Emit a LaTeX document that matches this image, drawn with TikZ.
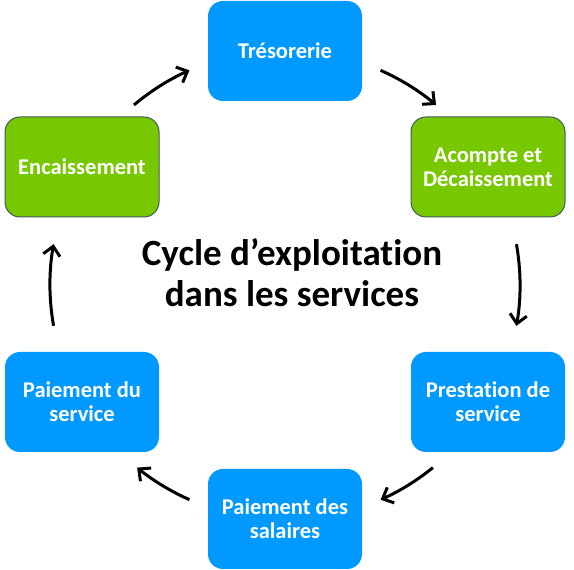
\documentclass[tikz,border=0pt]{standalone}
\usepackage{fontspec}
\setmainfont{Carlito}[Ligatures={NoCommon}]
\usetikzlibrary{arrows.meta,calc}
\definecolor{boxblue}{HTML}{0099FF}
\definecolor{boxgreen}{HTML}{78C800}
\definecolor{greenedge}{HTML}{3D5A5C}
\tikzset{
  box/.style={rectangle, rounded corners=15pt, minimum width=154pt, minimum height=100pt,
    inner sep=0pt, text=white, align=center,
    font=\fontsize{22.5pt}{24pt}\selectfont\bfseries},
  bluebox/.style={box, fill=boxblue},
  greenbox/.style={box, fill=boxgreen, draw=greenedge, line width=1pt},
  arr/.style={line width=3pt, -{Straight Barb[length=9pt,width=17pt,line width=3pt]}}
}
\begin{document}
\begin{tikzpicture}[x=1pt,y=1pt]
\useasboundingbox (0,0) rectangle (574,570);
\coordinate (C) at (285,285);
\node[bluebox]  (treso) at (285,519) {Trésorerie};
\node[greenbox] (acompte) at (488,403) {Acompte et\\Décaissement};
\node[bluebox]  (presta) at (488,168) {Prestation de\\service};
\node[bluebox]  (salaires) at (285,51) {Paiement des\\salaires};
\node[bluebox]  (paiement) at (82,168) {Paiement du\\service};
\node[greenbox] (encaiss) at (82,403) {Encaissement};
\node[font=\fontsize{37pt}{41pt}\selectfont\bfseries, align=center] (title) at (292,297)
  {Cycle d’exploitation\\dans les services};
% arrows along a circle
\coordinate (a1) at ($(C)+(130:235pt)$);
\coordinate (a2) at ($(C)+(66:235pt)$);
\coordinate (a3) at ($(C)+(10:235pt)$);
\coordinate (a4) at ($(C)+(-51:235pt)$);
\coordinate (a5) at ($(C)+(-114:235pt)$);
\coordinate (a6) at ($(C)+(190:235pt)$);
\draw[arr] (a1) arc[start angle=130, end angle=114, radius=235pt];
\draw[arr] (a2) arc[start angle=66, end angle=50, radius=235pt];
\draw[arr] (a3) arc[start angle=10, end angle=-10, radius=235pt];
\draw[arr] (a4) arc[start angle=-51, end angle=-66, radius=235pt];
\draw[arr] (a5) arc[start angle=-114, end angle=-129, radius=235pt];
\draw[arr] (a6) arc[start angle=190, end angle=170, radius=235pt];
\end{tikzpicture}
\end{document}
